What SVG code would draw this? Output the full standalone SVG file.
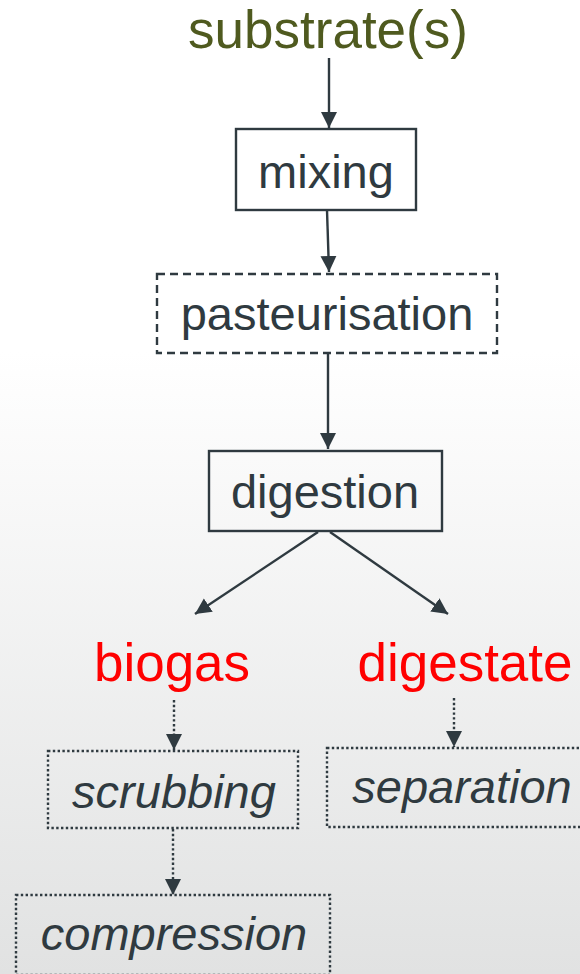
<svg xmlns="http://www.w3.org/2000/svg" width="580" height="974" viewBox="0 0 580 974">
<defs>
<linearGradient id="bg" x1="0" y1="0" x2="0" y2="1">
<stop offset="0" stop-color="#ffffff"/>
<stop offset="0.36" stop-color="#ffffff"/>
<stop offset="1" stop-color="#e1e2e2"/>
</linearGradient>
<marker id="arr" markerUnits="userSpaceOnUse" markerWidth="18" markerHeight="18" refX="16" refY="9" orient="auto">
<path d="M0,1 L16,9 L0,17 z" fill="#2f3a40"/>
</marker>
<style>
.box{fill:none;stroke:#2f3a40;stroke-width:2.4}
.dash{stroke-dasharray:8,5}
.dot{stroke-dasharray:2.4,2.4}
.lbl{font-family:"Liberation Sans",Arial,sans-serif;font-size:47px;fill:#2f3a40;text-anchor:middle}
.it{font-style:italic}
.big{font-family:"Liberation Sans",Arial,sans-serif;font-size:53px;text-anchor:middle}
.con{stroke:#2f3a40;stroke-width:2.4;fill:none;marker-end:url(#arr)}
</style>
</defs>
<rect x="0" y="0" width="580" height="974" fill="url(#bg)"/>
<g id="connectors">
<line class="con" x1="329" y1="58" x2="329" y2="128"/>
<line class="con" x1="327" y1="210" x2="329" y2="272"/>
<line class="con" x1="328" y1="354" x2="328" y2="449"/>
<line class="con" x1="318" y1="532" x2="195" y2="614"/>
<line class="con" x1="330" y1="532" x2="448" y2="614"/>
<line class="con dot" x1="174" y1="700" x2="174" y2="750"/>
<line class="con dot" x1="454" y1="698" x2="454" y2="747"/>
<line class="con dot" x1="173" y1="829" x2="173" y2="895"/>
</g>
<g id="substrates">
<text class="big" x="328" y="48" fill="#4f5a1f">substrate(s)</text>
</g>
<g id="mixing">
<rect class="box" x="236" y="129" width="180" height="81"/>
<text class="lbl" x="326" y="188">mixing</text>
</g>
<g id="pasteurisation">
<rect class="box dash" x="157" y="274" width="340" height="79"/>
<text class="lbl" x="327" y="330">pasteurisation</text>
</g>
<g id="digestion">
<rect class="box" x="209" y="451" width="233" height="80"/>
<text class="lbl" x="325" y="508">digestion</text>
</g>
<g id="biogas">
<text class="big" x="172" y="681" fill="#ff0000">biogas</text>
</g>
<g id="digestate">
<text class="big" x="465" y="681" fill="#ff0000">digestate</text>
</g>
<g id="scrubbing">
<rect class="box dot" x="48" y="751" width="250" height="77"/>
<text class="lbl it" x="174" y="808">scrubbing</text>
</g>
<g id="separation">
<rect class="box dot" x="327" y="748" width="260" height="79"/>
<text class="lbl it" x="462" y="803">separation</text>
</g>
<g id="compression">
<rect class="box dot" x="16" y="895" width="314" height="80"/>
<text class="lbl it" x="174" y="950">compression</text>
</g>
</svg>
